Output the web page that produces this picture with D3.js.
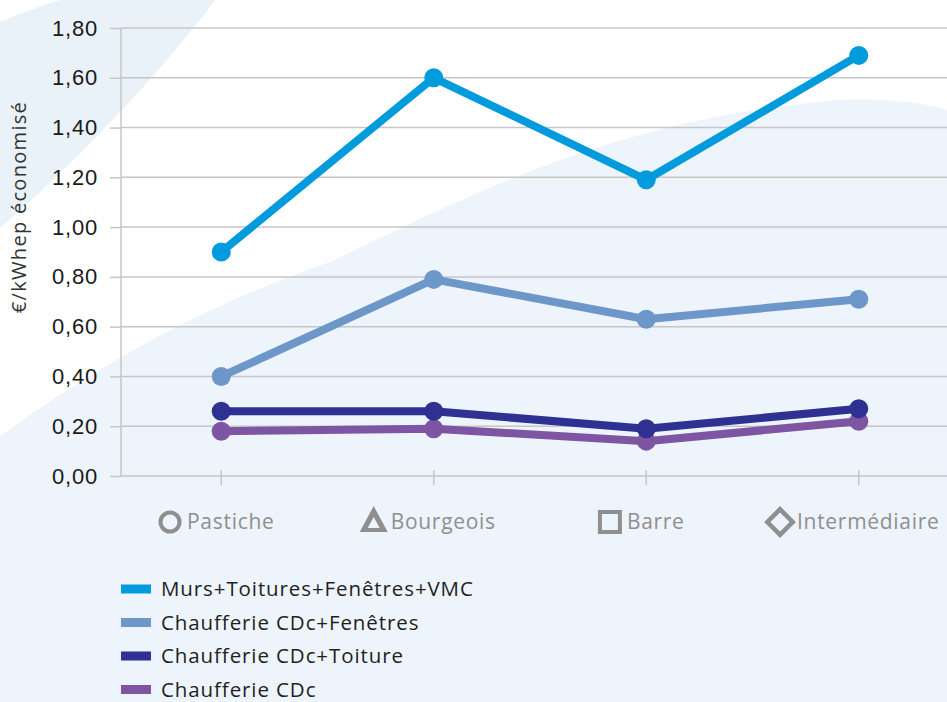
<!DOCTYPE html>
<html>
<head>
<meta charset="utf-8">
<script src="https://cdn.jsdelivr.net/npm/d3@7"></script>
<style>
  body { margin: 0; background: #fff; }
  svg { display: block; font-family: "Open Sans", "DejaVu Sans", sans-serif; }
</style>
</head>
<body>
<script>
let categories = ['Pastiche', 'Bourgeois', 'Barre', 'Intermédiaire'];
let categoryShapes = ['circle', 'triangle', 'square', 'diamond'];

let seriesNames = ['Murs+Toitures+Fenêtres+VMC', 'Chaufferie CDc+Fenêtres', 'Chaufferie CDc+Toiture', 'Chaufferie CDc'];
let seriesColors = ['#009bdd', '#6d97c9', '#2e3192', '#7d55a3'];

let mursValues = [0.90, 1.60, 1.19, 1.69];
let fenetresValues = [0.40, 0.79, 0.63, 0.71];
let toitureValues = [0.26, 0.26, 0.19, 0.27];
let cdcValues = [0.18, 0.19, 0.14, 0.22];

let yTicks = [0, 0.2, 0.4, 0.6, 0.8, 1.0, 1.2, 1.4, 1.6, 1.8];

let allValues = [mursValues, fenetresValues, toitureValues, cdcValues];

let width = 947, height = 702;

let svg = d3.select('body').append('svg').attr('width', width).attr('height', height);

// background swooshes
let bg = svg.append('g').attr('class', 'background');
bg.append('path')
  .attr('d', 'M0,22 C20,14 40,6 60,0 L215,0 C170,60 100,140 0,228 Z')
  .attr('fill', '#e9f1f9');
bg.append('path')
  .attr('d', 'M0,436 C120,350 220,300 330,262 C480,190 620,118 840,100 C890,98 930,104 947,110 L947,702 L0,702 Z')
  .attr('fill', '#edf4fb');

let x = d3.scalePoint().domain(categories).range([115, 965]).padding(0.5);
let y = d3.scaleLinear().domain([0, 1.8]).range([476, 28]);

let fr = d3.formatLocale({decimal: ',', thousands: ' ', grouping: [3], currency: ['', '€']});

// grid + y axis
let yAxis = svg.append('g').attr('class', 'y axis')
  .attr('transform', 'translate(121,0)')
  .call(d3.axisLeft(y).tickValues(yTicks).tickSize(11).tickPadding(12).tickFormat(fr.format('.2f')));
yAxis.select('.domain').remove();
yAxis.selectAll('.tick line').attr('stroke', '#c6c6c6').attr('stroke-width', 1.5);
yAxis.selectAll('.tick text').attr('fill', '#1a1a1a').style('font-size', '22px').style('letter-spacing', '0.8px');

svg.append('g').attr('class', 'grid')
  .selectAll('line').data(yTicks).enter().append('line')
  .attr('x1', 121).attr('x2', width)
  .attr('y1', d => y(d)).attr('y2', d => y(d))
  .attr('stroke', '#c6c6c6').attr('stroke-width', 1.5);

svg.append('line')
  .attr('x1', 121).attr('x2', 121).attr('y1', y(1.8)).attr('y2', y(0))
  .attr('stroke', '#c6c6c6').attr('stroke-width', 1.5);

// category ticks
svg.append('g').selectAll('line').data(categories).enter().append('line')
  .attr('x1', d => x(d)).attr('x2', d => x(d))
  .attr('y1', y(0) - 6).attr('y2', y(0) + 9)
  .attr('stroke', '#c6c6c6').attr('stroke-width', 1.5);

// category labels with shapes
let labelY = 522;
let catLabel = svg.append('g').selectAll('g').data(categories).enter().append('g')
  .attr('class', 'catlabel');

catLabel.each(function(d, i) {
  let g = d3.select(this);
  let txt = g.append('text').text(d)
    .attr('y', labelY).attr('dy', '0.35em')
    .attr('fill', '#8f8f8f').style('font-size', '21px').style('letter-spacing', '0.7px');
  let tw = txt.node().getComputedTextLength();
  let iconW = 28, gap = 3;
  let total = iconW + gap + tw;
  let left = x(d) - 6 - total / 2;
  txt.attr('x', left + iconW + gap);
  let cx = left + iconW / 2, cy = labelY;
  let shape = categoryShapes[i];
  if (shape == 'circle') {
    g.append('circle').attr('cx', cx).attr('cy', cy).attr('r', 9.5)
      .attr('fill', 'none').attr('stroke', '#8f8f8f').attr('stroke-width', 4);
  } else if (shape == 'triangle') {
    g.append('path').attr('d', 'M' + (cx) + ',' + (cy - 16) + 'L' + (cx + 14) + ',' + (cy + 10) + 'L' + (cx - 14) + ',' + (cy + 10) + 'Z')
      .attr('fill', '#8f8f8f');
    g.append('path').attr('d', 'M' + (cx) + ',' + (cy - 5) + 'L' + (cx + 6) + ',' + (cy + 6) + 'L' + (cx - 6) + ',' + (cy + 6) + 'Z')
      .attr('fill', '#edf4fb');
  } else if (shape == 'square') {
    g.append('rect').attr('x', cx - 10).attr('y', cy - 10).attr('width', 20).attr('height', 20)
      .attr('fill', 'none').attr('stroke', '#8f8f8f').attr('stroke-width', 4);
  } else {
    g.append('rect').attr('x', -9).attr('y', -9).attr('width', 18).attr('height', 18)
      .attr('transform', 'translate(' + cx + ',' + cy + ') rotate(45)')
      .attr('fill', 'none').attr('stroke', '#8f8f8f').attr('stroke-width', 4.5);
  }
});

// y axis title
svg.append('text')
  .attr('transform', 'translate(26,207) rotate(-90)')
  .attr('text-anchor', 'middle')
  .attr('fill', '#333')
  .style('font-size', '20px')
  .style('letter-spacing', '1.3px')
  .text('€/kWhep économisé');

// lines
let line = d3.line().x((d, i) => x(categories[i])).y(d => y(d));

// draw bottom series first so top one stays on top
for (let s = allValues.length - 1; s >= 0; s--) {
  let g = svg.append('g').attr('class', 'series');
  g.append('path').datum(allValues[s])
    .attr('d', line)
    .attr('fill', 'none')
    .attr('stroke', seriesColors[s])
    .attr('stroke-width', 8)
    .attr('stroke-linejoin', 'round');
  g.selectAll('circle').data(allValues[s]).enter().append('circle')
    .attr('cx', (d, i) => x(categories[i]))
    .attr('cy', d => y(d))
    .attr('r', 9.5)
    .attr('fill', seriesColors[s]);
}

// legend
let legend = svg.append('g').selectAll('g').data(seriesNames).enter().append('g')
  .attr('transform', (d, i) => 'translate(121,' + (589 + i * 33.5) + ')');
legend.append('rect').attr('x', 0).attr('y', -4.5).attr('width', 30).attr('height', 9)
  .attr('fill', (d, i) => seriesColors[i]);
legend.append('text').attr('x', 40).attr('dy', '0.35em')
  .attr('fill', '#1f1f1f').style('font-size', '20.5px').style('letter-spacing', '0.9px')
  .text(d => d);
</script>
</body>
</html>
